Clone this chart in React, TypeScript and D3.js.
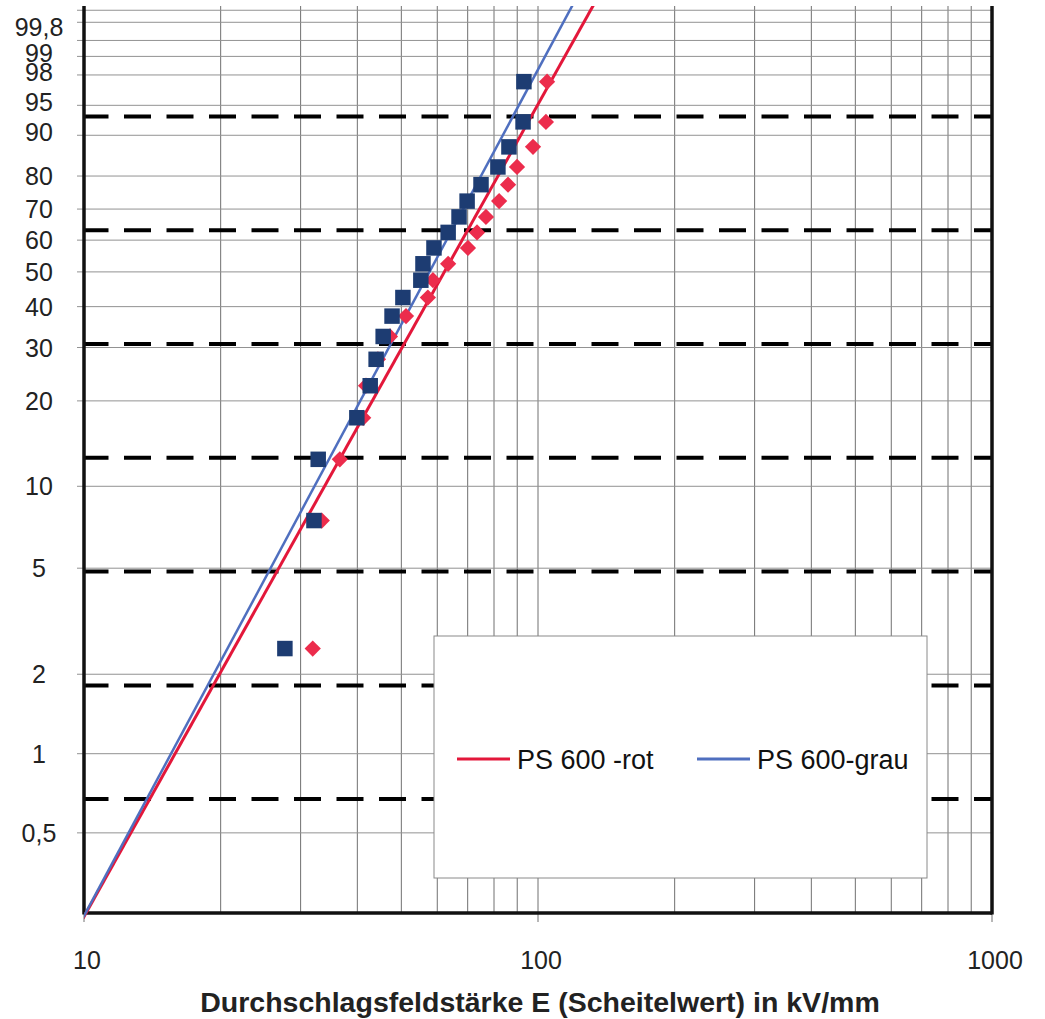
import React, { useEffect, useRef } from "react";
import * as d3 from "d3";

// plotting positions (i - 0.5) / n in percent, n = 20
const plotPct = [2.5, 7.5, 12.5, 17.5, 22.5, 27.5, 32.5, 37.5, 42.5, 47.5, 52.5, 57.5, 62.5, 67.5, 72.5, 77.5, 82.5, 87.5, 92.5, 97.5];
// breakdown field strength in kV/mm
const rotE = [31.9, 33.4, 36.6, 41.2, 41.8, 44.4, 47.2, 51.2, 57.2, 58.7, 63.4, 70.1, 73.4, 76.8, 82.1, 85.9, 89.9, 97.5, 104.1, 104.7];
const grauE = [27.7, 32.1, 32.8, 39.9, 42.7, 44.0, 45.6, 47.7, 50.4, 55.2, 55.8, 59.0, 63.4, 67.0, 69.8, 74.9, 81.6, 86.3, 92.7, 93.1];

// weibull fits: shape, scale (kV/mm)
const seriesNames = ["PS 600 -rot", "PS 600-grau"];
const fitShape = [3.1, 3.23];
const fitScale = [70.0, 64.6];

const gridPct = [0.5, 1, 2, 5, 10, 20, 30, 40, 50, 60, 70, 80, 90, 95, 98, 99, 99.5, 99.8, 99.9];
const labelPct = [0.5, 1, 2, 5, 10, 20, 30, 40, 50, 60, 70, 80, 90, 95, 98, 99, 99.8];
const labelText = ["0,5", "1", "2", "5", "10", "20", "30", "40", "50", "60", "70", "80", "90", "95", "98", "99", "99,8"];
// dashed lines at ln(-ln(1-F)) = -5 ... 1
const dashPct = [0.672, 1.815, 4.86, 12.66, 30.78, 63.21, 93.4];
const xTicks = [10, 100, 1000];

const wb = (p: number) => Math.log(-Math.log(1 - p / 100));

function Chart() {
  const ref = useRef<SVGSVGElement | null>(null);

  useEffect(() => {
    const svg = d3.select(ref.current);
    svg.selectAll("*").remove();

    var left = 84, right = 992, top = 6, bottom = 913;
    var font = "Liberation Sans, Arial, sans-serif";

    var x = d3.scaleLog().domain([10, 1000]).range([left, right]);
    var y = d3.scaleLinear().domain([-6, 1.97]).range([bottom, top]);

    svg.append("defs").append("clipPath").attr("id", "plotclip")
      .append("rect").attr("x", left).attr("y", top).attr("width", right - left).attr("height", bottom - top + 6);

    // vertical grid
    var minor: number[] = [];
    [10, 100].forEach((d) => { for (var k = 2; k <= 9; k++) minor.push(d * k); });
    svg.append("g").selectAll("line").data(minor).join("line")
      .attr("x1", (d) => x(d)).attr("x2", (d) => x(d))
      .attr("y1", top).attr("y2", bottom)
      .attr("stroke", "#707070").attr("stroke-width", 1);
    svg.append("g").selectAll("line").data(xTicks).join("line")
      .attr("x1", (d) => x(d)).attr("x2", (d) => x(d))
      .attr("y1", top).attr("y2", bottom + 9)
      .attr("stroke", "#707070").attr("stroke-width", 1);

    // horizontal grid
    svg.append("g").selectAll("line").data(gridPct).join("line")
      .attr("x1", left - 7).attr("x2", right)
      .attr("y1", (d) => y(wb(d))).attr("y2", (d) => y(wb(d)))
      .attr("stroke", "#929292").attr("stroke-width", 1);

    // dashed reference lines
    svg.append("g").selectAll("line").data(dashPct).join("line")
      .attr("x1", left).attr("x2", right)
      .attr("y1", (d) => y(wb(d))).attr("y2", (d) => y(wb(d)))
      .attr("stroke", "#000").attr("stroke-width", 4)
      .attr("stroke-dasharray", "27 15.5").attr("stroke-dashoffset", 2.5);

    // legend box (covers grid)
    var lg = svg.append("g");
    lg.append("rect").attr("x", 434).attr("y", 636).attr("width", 493).attr("height", 242)
      .attr("fill", "#fff").attr("stroke", "#8a8a8a").attr("stroke-width", 1);

    // axes frame
    svg.append("line").attr("x1", left).attr("x2", left).attr("y1", top).attr("y2", bottom + 1.5)
      .attr("stroke", "#111").attr("stroke-width", 3.5);
    svg.append("line").attr("x1", right).attr("x2", right).attr("y1", top).attr("y2", bottom + 1.5)
      .attr("stroke", "#111").attr("stroke-width", 3.5);
    svg.append("line").attr("x1", left).attr("x2", right).attr("y1", bottom).attr("y2", bottom)
      .attr("stroke", "#111").attr("stroke-width", 3.5);

    var colors = ["#e3173a", "#4f6fbf"];
    var markerColors = ["#ec2c4c", "#1d3c72"];
    var seriesE = [rotE, grauE];

    // fit lines
    seriesE.forEach((_, s) => {
      var ws = [-6.2, 2.1];
      var pts = ws.map((w) => [x(fitScale[s] * Math.exp(w / fitShape[s])), y(w)] as [number, number]);
      svg.append("path").attr("d", d3.line()(pts))
        .attr("clip-path", "url(#plotclip)")
        .attr("fill", "none").attr("stroke", colors[s]).attr("stroke-width", s === 0 ? 3 : 2.5);
    });

    // markers: red diamonds then blue squares
    svg.append("g").selectAll("path").data(rotE).join("path")
      .attr("d", d3.symbol(d3.symbolSquare, 132)())
      .attr("transform", (d, i) => `translate(${x(d)},${y(wb(plotPct[i]))}) rotate(45)`)
      .attr("fill", markerColors[0]);
    svg.append("g").selectAll("path").data(grauE).join("path")
      .attr("d", d3.symbol(d3.symbolSquare, 240)())
      .attr("transform", (d, i) => `translate(${x(d)},${y(wb(plotPct[i]))})`)
      .attr("fill", markerColors[1]);

    // legend entries
    var legX = [457, 697];
    seriesNames.forEach((name, s) => {
      lg.append("line").attr("x1", legX[s]).attr("x2", legX[s] + 53).attr("y1", 759).attr("y2", 759)
        .attr("stroke", colors[s]).attr("stroke-width", 3);
      lg.append("text").attr("x", legX[s] + 60).attr("y", 768.5).text(name)
        .attr("font-family", font).attr("font-size", 27).attr("fill", "#111");
    });
    lg.raise();

    // y labels (the crowded top ones sit a little off their gridline, as in the print)
    svg.append("g").selectAll("text").data(labelPct).join("text")
      .attr("x", 39).attr("y", (d) => y(wb(d)) + (d === 99.8 ? 5 : d >= 90 ? -3 : 0))
      .attr("dy", "0.36em")
      .attr("text-anchor", "middle")
      .attr("font-family", font).attr("font-size", 25).attr("fill", "#222")
      .text((d, i) => labelText[i]);

    // x labels
    svg.append("g").selectAll("text").data(xTicks).join("text")
      .attr("x", (d) => x(d) + 3).attr("y", 969)
      .attr("text-anchor", "middle")
      .attr("font-family", font).attr("font-size", 25).attr("fill", "#222")
      .text((d) => String(d));

    svg.append("text").attr("x", 540).attr("y", 1012).attr("text-anchor", "middle")
      .attr("font-family", font).attr("font-size", 28.5).attr("font-weight", "bold")
      .attr("fill", "#222")
      .text("Durchschlagsfeldstärke E (Scheitelwert) in kV/mm");
  }, []);

  return (
    <svg ref={ref} width={1045} height={1019}
      style={{ position: "absolute", left: 0, top: 0, background: "#fff" }} />
  );
}

export default function App() {
  return <Chart />;
}
